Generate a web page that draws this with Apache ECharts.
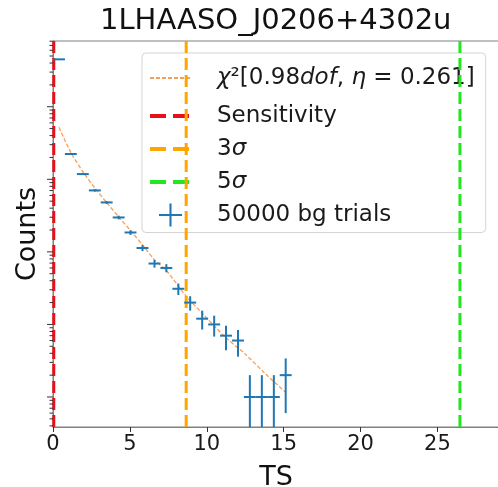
<!DOCTYPE html>
<html>
<head>
<meta charset="utf-8">
<script src="https://cdn.jsdelivr.net/npm/echarts@6/dist/echarts.min.js"></script>
<style>
html, body { margin: 0; padding: 0; background: #fff; }
#chart { width: 498px; height: 487px; }
</style>
</head>
<body>
<div id="chart"></div>
<script>
// TS histogram of the background trials (bin centres, counts, poisson errors)
var binCenter = [0.39, 1.16, 1.94, 2.72, 3.49, 4.27, 5.04, 5.82, 6.60, 7.37, 8.15, 8.92, 9.70, 10.48, 11.25, 12.03, 12.80, 13.58, 14.36, 15.13];
var binCounts = [45000, 2230, 1180, 703, 480, 298, 185, 113, 69, 60, 31, 20, 12, 10, 7, 6, 1, 1, 1, 2];
var countErr = [212, 47.2, 34.4, 26.5, 21.9, 17.3, 13.6, 10.6, 8.3, 7.7, 5.6, 4.5, 3.5, 3.2, 2.6, 2.4, 1, 1, 1, 1.4];
var binHalf = 0.388;

// fitted chi2 curve
var curveTS = [0.39, 1.15, 1.96, 2.72, 3.52, 4.29, 5.07, 5.83, 6.57, 7.41, 8.66, 9.7, 11.2, 12.5, 13.8, 15.1];
var curveCounts = [5200, 2370, 1260, 760, 470, 300, 193, 124, 79, 54, 24.5, 14.3, 6.7, 3.9, 2.1, 1.17];

// threshold lines
var sensTS = 0.05;
var sigma3TS = 8.66;
var sigma5TS = 26.46;

// y axis tick values (log)
var yMajorTicks = [1, 10, 100, 1000, 10000];
var yMinorTicks = [0.4, 0.5, 0.6, 0.7, 0.8, 0.9,
  2, 3, 4, 5, 6, 7, 8, 9,
  20, 30, 40, 50, 60, 70, 80, 90,
  200, 300, 400, 500, 600, 700, 800, 900,
  2000, 3000, 4000, 5000, 6000, 7000, 8000, 9000,
  20000, 30000, 40000, 50000, 60000, 70000, 80000];

var xMin = 0, xMax = 29;
var yMin = 0.386, yMax = 80500;

var FONT = 'DejaVu Sans';
var chart = echarts.init(document.getElementById('chart'));

function vline(x) {
  return [[x, yMin], [x, yMax]];
}

function renderErr(params, api) {
  var x = api.value(0), y = api.value(1), e = api.value(2);
  var lo = Math.max(y - e, yMin);
  var pL = api.coord([x - binHalf, y]);
  var pR = api.coord([x + binHalf, y]);
  var pT = api.coord([x, y + e]);
  var pB = api.coord([x, lo]);
  var st = { stroke: '#1f77b4', lineWidth: 2 };
  return {
    type: 'group',
    children: [
      { type: 'line', shape: { x1: pL[0], y1: pL[1], x2: pR[0], y2: pR[1] }, style: st },
      { type: 'line', shape: { x1: pT[0], y1: pT[1], x2: pB[0], y2: pB[1] }, style: st }
    ]
  };
}

function renderTick(params, api) {
  var p = api.coord([xMin, api.value(0)]);
  var len = api.value(1);
  return {
    type: 'line',
    shape: { x1: p[0] - len, y1: p[1], x2: p[0], y2: p[1] },
    style: { stroke: '#333', lineWidth: 1 }
  };
}

var tickData = yMajorTicks.map(function (v) { return [v, 6]; })
  .concat(yMinorTicks.map(function (v) { return [v, 3.5]; }));

// legend entries drawn as plain lines (no symbol in the middle)
var noSymbol = { opacity: 0 };
var thickDash = { type: [16, 7], width: 4 };

var option = {
  animation: false,
  backgroundColor: '#fff',
  title: {
    text: '1LHAASO_J0206+4302u',
    left: 100,
    top: 7,
    padding: 0,
    textStyle: { fontFamily: FONT, fontSize: 29, fontWeight: 'normal', color: '#111' }
  },
  grid: {
    left: 53, right: -1, top: 41, bottom: 60,
    show: true, borderColor: '#808080', borderWidth: 1,
    containLabel: false, outerBoundsMode: 'none'
  },
  legend: {
    orient: 'vertical',
    left: 142, top: 53,
    padding: [8.5, 11, 6, 6],
    itemWidth: 41, itemHeight: 23, itemGap: 10,
    backgroundColor: 'rgba(255,255,255,0.8)',
    borderColor: '#d4d4d4', borderWidth: 1, borderRadius: 4,
    selectedMode: false,
    data: [
      { name: 'chi2', itemStyle: noSymbol },
      { name: 'Sensitivity', itemStyle: noSymbol, lineStyle: thickDash },
      { name: '3sigma', itemStyle: noSymbol, lineStyle: thickDash },
      { name: '5sigma', itemStyle: noSymbol, lineStyle: thickDash },
      { name: '50000 bg trials', icon: 'path://M0,10h22v2h-22z M10,0h2v22h-2z' }
    ],
    formatter: function (name) {
      if (name === 'chi2') return '{i1|χ}{n1|²[0.98}{i1|dof}{n1|, }{i1|η}{n1| = 0.261]}';
      if (name === '3sigma') return '{n|3}{i|σ}';
      if (name === '5sigma') return '{n|5}{i|σ}';
      return name;
    },
    textStyle: {
      fontFamily: FONT, fontSize: 23, color: '#1a1a1a', lineHeight: 23,
      padding: [0, 0, 0, 21],
      rich: {
        n: { fontFamily: FONT, fontSize: 23, color: '#1a1a1a', lineHeight: 23 },
        i: { fontFamily: FONT, fontSize: 23, color: '#1a1a1a', lineHeight: 23, fontStyle: 'italic' },
        n1: { fontFamily: FONT, fontSize: 23, color: '#1a1a1a', lineHeight: 33 },
        i1: { fontFamily: FONT, fontSize: 23, color: '#1a1a1a', lineHeight: 33, fontStyle: 'italic' }
      }
    }
  },
  xAxis: {
    type: 'value',
    min: xMin, max: xMax, interval: 5,
    name: 'TS', nameLocation: 'middle', nameGap: 37,
    nameTextStyle: { fontFamily: FONT, fontSize: 27, color: '#111' },
    axisLine: { onZero: false, lineStyle: { color: '#808080', width: 1 } },
    axisTick: { show: true, length: 5, lineStyle: { color: '#333', width: 1 } },
    axisLabel: { fontFamily: FONT, fontSize: 21, color: '#1a1a1a', margin: 7, showMaxLabel: false },
    splitLine: { show: false }
  },
  yAxis: {
    type: 'log', logBase: 10,
    min: yMin, max: yMax,
    name: 'Counts', nameLocation: 'middle', nameGap: 12,
    nameTextStyle: { fontFamily: FONT, fontSize: 27, color: '#111' },
    axisLine: { show: true, lineStyle: { color: '#808080', width: 1 } },
    axisTick: { show: false },
    axisLabel: { show: false },
    splitLine: { show: false },
    minorTick: { show: false }
  },
  series: [
    {
      name: 'chi2', type: 'line', data: curveTS.map(function (t, i) { return [t, curveCounts[i]]; }),
      symbol: 'none', smooth: 0.3, z: 3,
      lineStyle: { color: '#f5a05a', width: 1.3, type: [4, 2] },
      itemStyle: { color: '#f5a05a' }
    },
    {
      name: 'Sensitivity', type: 'line', data: vline(sensTS), symbol: 'none', z: 4,
      lineStyle: { color: '#e8101a', width: 3, type: [12, 5] }, itemStyle: { color: '#e8101a' }
    },
    {
      name: '3sigma', type: 'line', data: vline(sigma3TS), symbol: 'none', z: 4,
      lineStyle: { color: '#ffa500', width: 3, type: [12, 5] }, itemStyle: { color: '#ffa500' }
    },
    {
      name: '5sigma', type: 'line', data: vline(sigma5TS), symbol: 'none', z: 4,
      lineStyle: { color: '#22e622', width: 3, type: [12, 5] }, itemStyle: { color: '#22e622' }
    },
    {
      name: '50000 bg trials', type: 'custom', renderItem: renderErr, z: 5,
      itemStyle: { color: '#1f77b4' },
      encode: { x: 0, y: 1 },
      data: binCenter.map(function (c, i) { return [c, binCounts[i], countErr[i]]; })
    },
    {
      name: 'yticks', type: 'custom', renderItem: renderTick, z: 6, silent: true,
      clip: false,
      encode: { y: 0 },
      data: tickData
    }
  ]
};

chart.setOption(option);
</script>
</body>
</html>
